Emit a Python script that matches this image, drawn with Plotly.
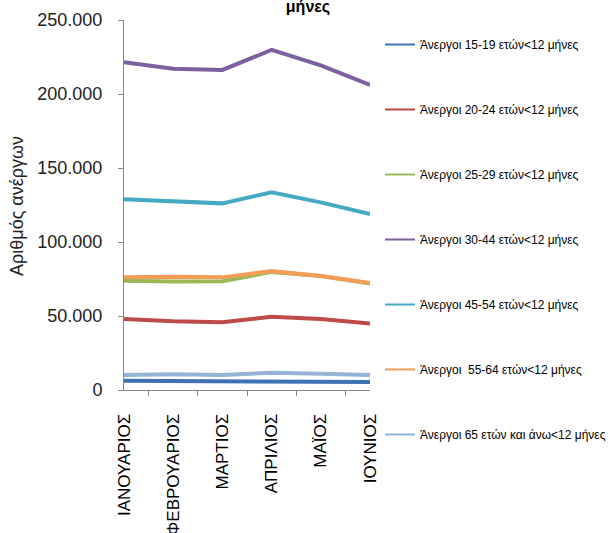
import plotly.graph_objects as go

months = ["ΙΑΝΟΥΑΡΙΟΣ", "ΦΕΒΡΟΥΑΡΙΟΣ", "ΜΑΡΤΙΟΣ", "ΑΠΡΙΛΙΟΣ", "ΜΑΪΟΣ", "ΙΟΥΝΙΟΣ"]

names = [
    "Άνεργοι 15-19 ετών<12 μήνες",
    "Άνεργοι 20-24 ετών<12 μήνες",
    "Άνεργοι 25-29 ετών<12 μήνες",
    "Άνεργοι 30-44 ετών<12 μήνες",
    "Άνεργοι 45-54 ετών<12 μήνες",
    "Άνεργοι  55-64 ετών<12 μήνες",
    "Άνεργοι 65 ετών και άνω<12 μήνες",
]

age_15_19 = [6300, 6200, 5600, 5600, 5600, 5400]
age_20_24 = [48000, 46400, 45700, 49500, 48000, 45000]
age_25_29 = [73800, 73300, 73500, 79800, 77000, 72000]
age_30_44 = [221500, 217000, 216300, 229800, 219300, 206100]
age_45_54 = [128900, 127500, 126100, 133600, 126800, 118900]
age_55_64 = [76100, 76600, 76100, 80400, 77000, 72300]
age_65_plus = [10200, 10700, 10200, 11700, 10900, 10200]

series = [age_15_19, age_20_24, age_25_29, age_30_44, age_45_54, age_55_64, age_65_plus]
colors = ["#3f72b5", "#be4b48", "#98b954", "#7d60a0", "#46aac5", "#f59d56", "#95b3d7"]

fig = go.Figure()
for nm, vals, c in zip(names, series, colors):
    fig.add_trace(go.Scatter(x=months, y=vals, mode="lines", name=nm,
                             line=dict(color=c, width=4), showlegend=False))
for i, (nm, c) in enumerate(zip(names, colors)):
    fig.add_trace(go.Scatter(x=[None], y=[None], mode="lines", name=nm,
                             line=dict(color=c, width=2), legendgroup=str(i),
                             showlegend=True))

fig.add_annotation(text="Αριθμός ανέργων", xref="paper", yref="paper",
                   x=-(124 - 17) / 246, y=(390 - 206) / 370,
                   xanchor="center", yanchor="middle", textangle=-90, showarrow=False,
                   font=dict(size=18, color="#222222"))

fig.update_layout(
    width=614, height=533,
    margin=dict(l=124, r=244, t=20, b=143, autoexpand=False),
    paper_bgcolor="white", plot_bgcolor="white",
    separators=",.",
    font=dict(family="Liberation Sans", color="#222222"),
    title=dict(text="<b>μήνες</b>", x=308/614, xanchor="center", xref="container",
               y=1 - 6/533, yanchor="middle", yref="container",
               font=dict(size=16, color="#000000")),
    showlegend=True,
    legend=dict(xref="container", yref="container", x=380/614, y=1 - 30/533,
                xanchor="left", yanchor="top", tracegroupgap=46,
                traceorder="grouped", itemwidth=30, maxheight=1,
                font=dict(size=12, family="Liberation Sans Narrow, Liberation Sans", color="#000000"),
                bgcolor="rgba(0,0,0,0)"),
    xaxis=dict(showline=True, linecolor="#888888", linewidth=1, automargin=False,
               ticks="outside", ticklen=5, tickcolor="#888888", tickson="boundaries",
               tickangle=-90, tickfont=dict(size=17, color="#000000"), ticklabelstandoff=16,
               showgrid=False, zeroline=False),
    yaxis=dict(range=[0, 250000], dtick=50000, tickformat=",d", automargin=False,
               showline=True, linecolor="#888888", linewidth=1,
               ticks="outside", ticklen=5, tickcolor="#888888", ticklabelstandoff=12,
               tickfont=dict(size=18, color="#222222"),
               showgrid=False, zeroline=False),
)

fig.write_html("out.html", config={"displayModeBar": False},
               post_script="document.body.style.margin='0';")
